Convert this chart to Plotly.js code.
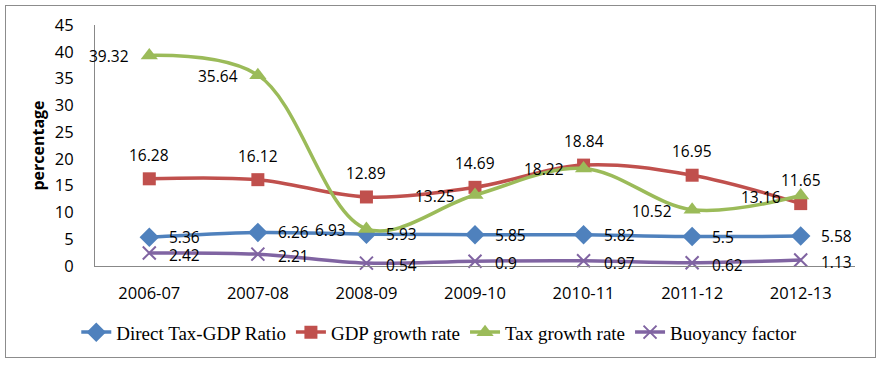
<!DOCTYPE html>
<html><head><meta charset="utf-8">
<script src="https://cdn.plot.ly/plotly-3.0.1.min.js"></script>
<style>
body{margin:0;padding:0;background:#fff;}
#chart{width:882px;height:365px;}
#frame{position:absolute;left:5px;top:5px;width:869px;height:351px;border:1px solid #8c8c8c;pointer-events:none;}
</style>
</head><body>
<div id="chart"></div>
<div id="frame"></div>
<script>
const years = ["2006-07","2007-08","2008-09","2009-10","2010-11","2011-12","2012-13"];
const directTaxGdp = [5.36, 6.26, 5.93, 5.85, 5.82, 5.5, 5.58];
const gdpGrowth = [16.28, 16.12, 12.89, 14.69, 18.84, 16.95, 11.65];
const taxGrowth = [39.32, 35.64, 6.93, 13.25, 18.22, 10.52, 13.16];
const buoyancy = [2.42, 2.21, 0.54, 0.9, 0.97, 0.62, 1.13];
const yTicks = [0,5,10,15,20,25,30,35,40,45];

const sans = "'Open Sans', Lato, sans-serif";
const lblFont = {family:sans, size:15.5, color:"#000"};
function tr(name, y, color, symbol, size){
  return {x:years, y:y, name:name, type:"scatter", mode:"lines+markers",
    line:{color:color, width:3.5, shape:"spline", smoothing:1},
    marker:{color:color, symbol:symbol, size:size, line:{color:color, width: symbol==="x-thin"?2:0}},
    cliponaxis:false};
}
const data = [
  tr("Direct Tax-GDP Ratio", directTaxGdp, "#4F81BD", "diamond", 15),
  tr("GDP growth rate", gdpGrowth, "#C0504D", "square", 13),
  tr("Tax growth rate", taxGrowth, "#9BBB59", "triangle-up", 15),
  tr("Buoyancy factor", buoyancy, "#8064A2", "x-thin", 13)
];
function labels(vals, where, ys){
  return vals.map((v,i)=>{
    const a = {x:years[i], y:v, text:String(v), showarrow:false, font:lblFont};
    if(where==="right"){a.xanchor="left"; a.xshift=18; a.yanchor="middle"; a.yshift=ys;}
    else if(where==="left"){a.xanchor="right"; a.xshift=-18; a.yanchor="middle"; a.yshift=ys;}
    else {a.xanchor="center"; a.yanchor="middle"; a.yshift=ys;}
    return a;
  });
}
const annotations = [].concat(
  labels(directTaxGdp,"right",0),
  labels(gdpGrowth,"top",24),
  labels(taxGrowth,"left",-1),
  labels(buoyancy,"right",-2)
);
const layout = {
  width:882, height:365,
  margin:{l:95, r:27, t:25, b:99},
  paper_bgcolor:"#fff", plot_bgcolor:"#fff",
  showlegend:true,
  annotations:annotations,
  legend:{orientation:"h", x:0.453, xanchor:"center", y:-0.275, yanchor:"middle",
    font:{family:"'Liberation Serif', 'Times New Roman', serif", size:19, color:"#000"},
    itemwidth:30, tracegroupgap:0},
  xaxis:{type:"category", range:[-0.5,6.5], showgrid:false, zeroline:false,
    showline:true, linecolor:"#888", linewidth:1, ticks:"", ticklabelstandoff:12,
    tickfont:{family:sans, size:16.5, color:"#000"}},
  yaxis:{range:[0,45], tickvals:yTicks, ticktext:yTicks.map(String), showgrid:false, zeroline:false,
    showline:true, linecolor:"#888", linewidth:1, ticks:"", ticklabelstandoff:17,
    tickfont:{family:sans, size:16.5, color:"#000"},
    title:{text:"<b>percentage</b>", font:{family:sans, size:16, color:"#000"}, standoff:6}}
};
Plotly.newPlot("chart", data, layout, {displayModeBar:false, staticPlot:true});
</script>
</body></html>
